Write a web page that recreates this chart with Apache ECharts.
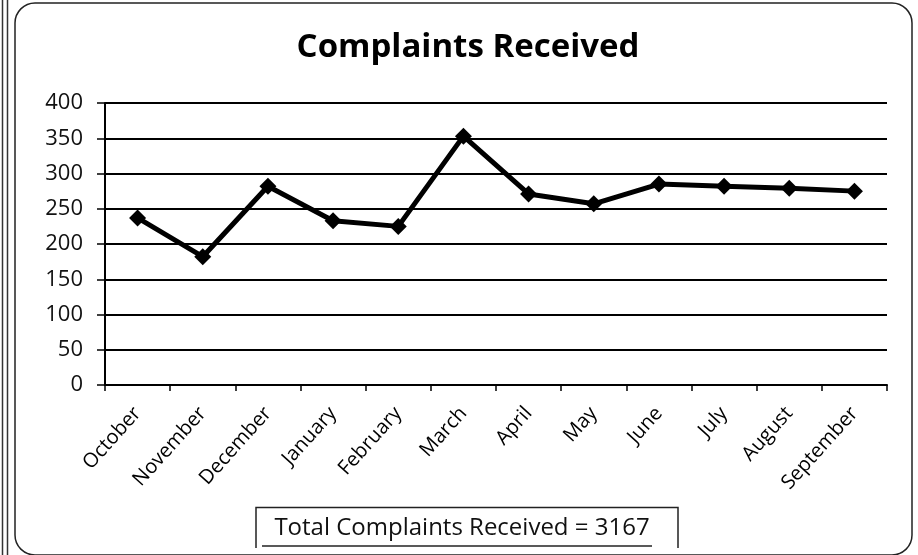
<!DOCTYPE html>
<html>
<head>
<meta charset="utf-8">
<script src="https://cdn.jsdelivr.net/npm/echarts@6/dist/echarts.min.js"></script>
<style>html,body{margin:0;padding:0;background:#fff;}#c{width:918px;height:555px;}</style>
</head>
<body>
<div id="c"></div>
<script>
var titleText = 'Complaints Received';
var months = ['October','November','December','January','February','March','April','May','June','July','August','September'];
var complaints = [237, 182, 282, 233, 225, 353, 271, 257, 285, 282, 279, 275];
var yTicks = [0, 50, 100, 150, 200, 250, 300, 350, 400];
var totalLabel = 'Total Complaints Received = 3167';

var chart = echarts.init(document.getElementById('c'), null, {renderer: 'canvas'});
var font = '"Open Sans", "Liberation Sans", sans-serif';
chart.setOption({
  backgroundColor: '#fff',
  animation: false,
  title: {
    text: titleText, left: 463, top: 26, textAlign: 'center',
    textStyle: {fontFamily: font, fontSize: 33, fontWeight: 'bold', color: '#000'}
  },
  grid: {left: 105, right: 31, top: 103, bottom: 170, containLabel: false},
  xAxis: {
    type: 'category', data: months, boundaryGap: true,
    axisLine: {lineStyle: {color: '#000', width: 2}},
    axisTick: {show: true, inside: false, length: 6, lineStyle: {color: '#000', width: 1.5}},
    axisLabel: {rotate: 48, margin: 25, fontFamily: font, fontSize: 20, color: '#000', interval: 0}
  },
  yAxis: {
    type: 'value', min: yTicks[0], max: yTicks[yTicks.length - 1], interval: 50,
    axisLine: {show: true, lineStyle: {color: '#000', width: 2}},
    axisTick: {show: true, length: 8, lineStyle: {color: '#000', width: 1.5}},
    axisLabel: {fontFamily: font, fontSize: 22, color: '#111', margin: 22},
    splitLine: {show: true, lineStyle: {color: '#000', width: 2}}
  },
  series: [{
    type: 'line', data: complaints,
    lineStyle: {color: '#000', width: 5},
    itemStyle: {color: '#000'},
    symbol: 'diamond', symbolSize: 17, showSymbol: true
  }],
  graphic: [
    {type: 'line', shape: {x1: 2.5, y1: 0, x2: 2.5, y2: 555}, style: {stroke: '#333', lineWidth: 1.5}},
    {type: 'line', shape: {x1: 7.5, y1: 0, x2: 7.5, y2: 555}, style: {stroke: '#333', lineWidth: 1.5}},
    {type: 'rect', shape: {x: 15, y: 3, width: 897, height: 552, r: 20}, style: {fill: 'none', stroke: '#222', lineWidth: 1.5}},
    {type: 'polyline', shape: {points: [[256, 548], [256, 507.5], [678, 507.5], [678, 548]]}, style: {fill: 'none', stroke: '#222', lineWidth: 1.5}},
    {type: 'text', x: 462, y: 528, style: {text: totalLabel, fill: '#111', font: '24px "Open Sans", "Liberation Sans", sans-serif', textAlign: 'center', textVerticalAlign: 'middle'}},
    {type: 'line', shape: {x1: 262, y1: 546, x2: 652, y2: 546}, style: {stroke: '#222', lineWidth: 1.5}}
  ]
});
</script>
</body>
</html>
